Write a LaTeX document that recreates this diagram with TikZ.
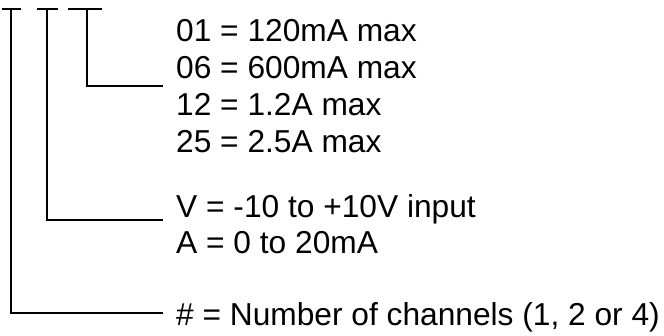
\documentclass[tikz,border=0pt]{standalone}
\usepackage{fontspec}
\setmainfont{Liberation Sans}
\usetikzlibrary{positioning}
\tikzset{
  code/.style={anchor=base west, inner sep=0pt,
    font=\fontsize{31.7}{37}\selectfont},
  lead/.style={draw=black, line width=2.7pt},
}

\begin{document}
\begin{tikzpicture}[x=1pt,y=-1pt]
  \useasboundingbox (0,0) rectangle (664,335);
  % tops of the three code fields
  \coordinate (tn) at (11,9);
  \coordinate (ti) at (47,9);
  \coordinate (tc) at (87,9);
  % current rating
  \node[code] (c01) at (176,41.5) {01 = 120mA max};
  \node[code] (c06) at ([yshift=-37pt]c01.base west) {06 = 600mA max};
  \node[code] (c12) at ([yshift=-37pt]c06.base west) {12 = 1.2A max};
  \node[code] (c25) at ([yshift=-37pt]c12.base west) {25 = 2.5A max};
  % input type
  \node[code] (inV) at (176,217) {V = -10 to +10V input};
  \node[code] (inA) at ([yshift=-36pt]inV.base west) {A = 0 to 20mA};
  % channels
  \node[code] (nch) at (176,325) {\# = Number of channels (1, 2 or 4)};
  \coordinate (ec) at (163,86);
  \coordinate (ei) at (163,220);
  \coordinate (en) at (163,313);
  \draw[lead] ([xshift=-9pt]tn) -- ([xshift=10pt]tn);
  \draw[lead] ([xshift=-10pt]ti) -- ([xshift=11pt]ti);
  \draw[lead] ([xshift=-19pt]tc) -- ([xshift=15pt]tc);
  \draw[lead] (tc) |- (ec);
  \draw[lead] (ti) |- (ei);
  \draw[lead] (tn) |- (en);
\end{tikzpicture}
\end{document}
